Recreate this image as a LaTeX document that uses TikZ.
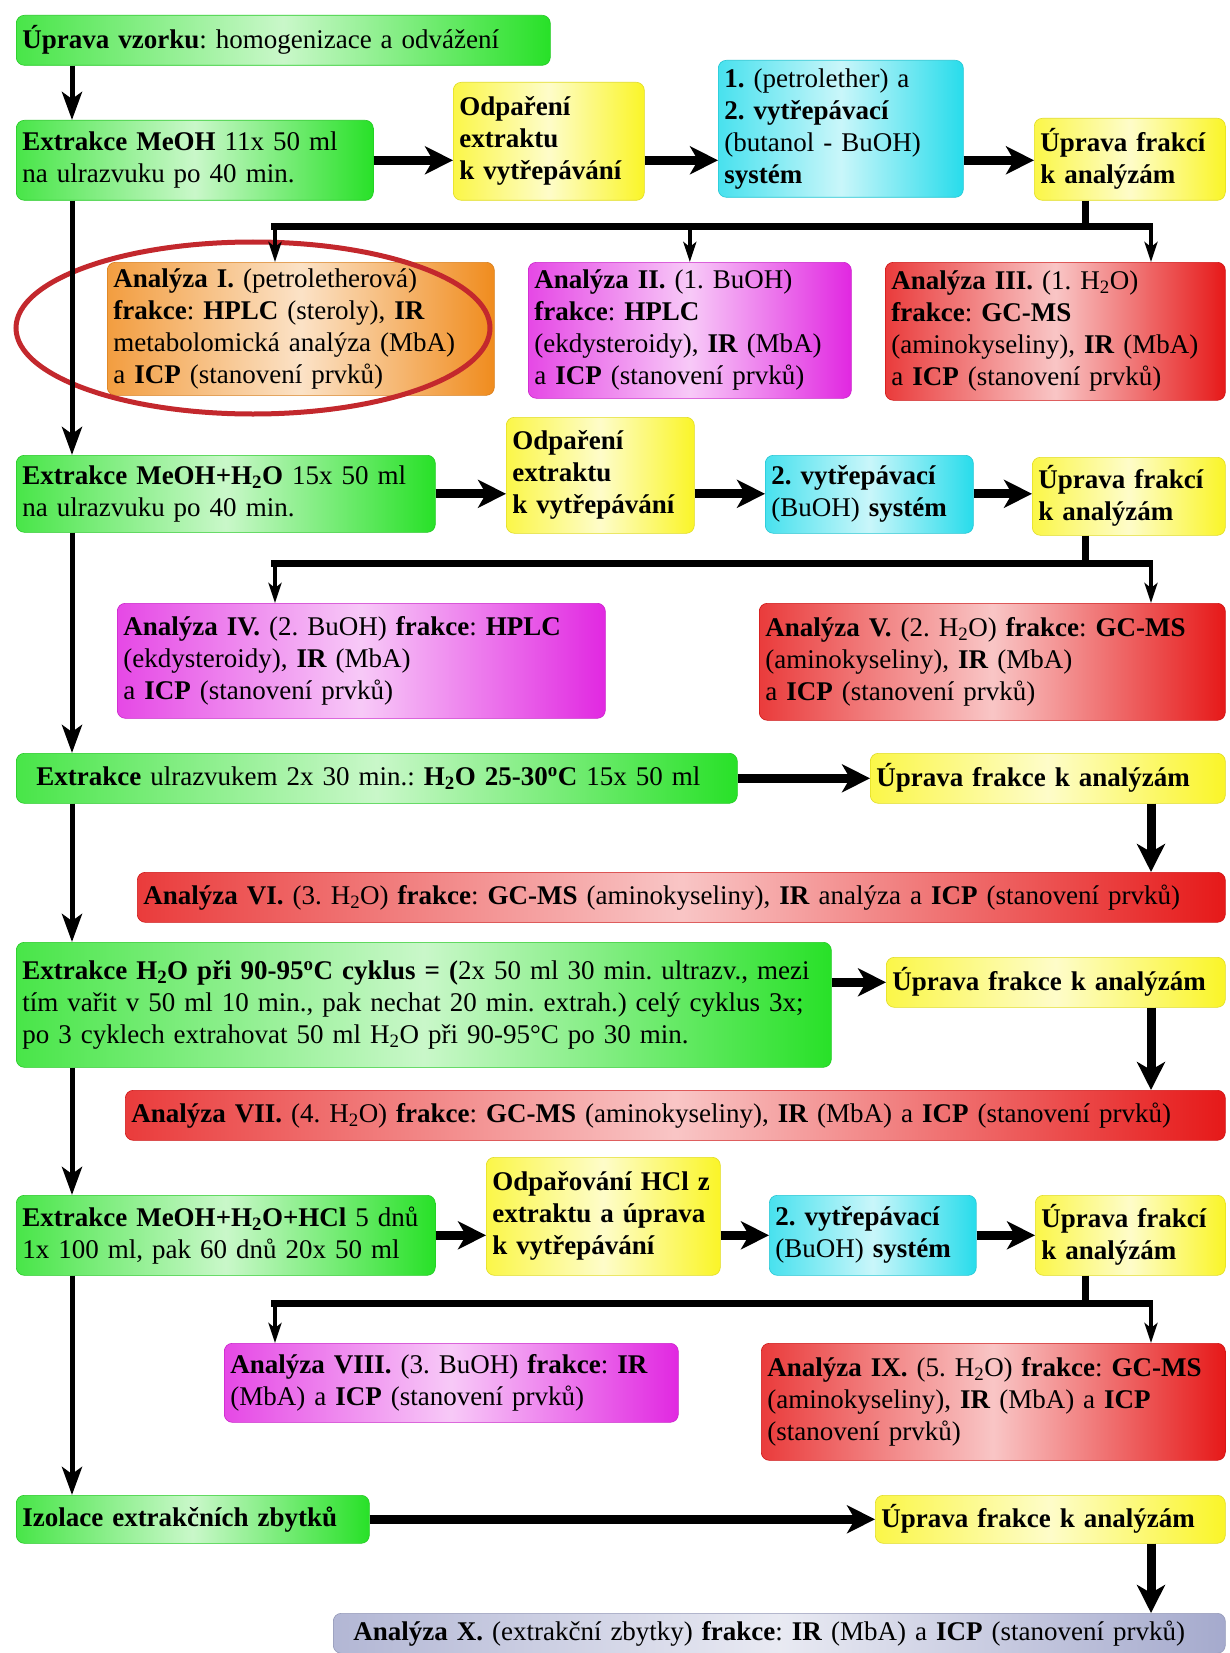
\documentclass[tikz,border=0pt]{standalone}
\usepackage{fontspec}
\setmainfont{Liberation Serif}
\usepackage{tikz}
\usetikzlibrary{arrows.meta, positioning, shapes.geometric, calc}

\definecolor{pgreen}{RGB}{40,225,40}
\definecolor{pyellow}{RGB}{250,245,40}
\definecolor{pcyan}{RGB}{40,220,235}
\definecolor{porange}{RGB}{240,140,30}
\definecolor{pmagenta}{RGB}{225,40,225}
\definecolor{pred}{RGB}{230,25,25}
\definecolor{pgrey}{RGB}{165,170,205}
\definecolor{ringred}{RGB}{195,40,45}

\begin{document}
\frenchspacing
\begin{tikzpicture}[x=1pt, y=-1pt,
  pbox/.style={rounded corners=8pt, anchor=north west, align=left, inner sep=6pt,
    font=\fontsize{27}{32}\selectfont},
  tint/.style={pbox, shade, left color=#1!85!white, right color=#1, middle color=#1!25!white, draw=#1!90!black, line width=0.6pt},
  gbox/.style={tint=pgreen},
  ybox/.style={tint=pyellow},
  cbox/.style={tint=pcyan},
  obox/.style={tint=porange},
  mbox/.style={tint=pmagenta},
  rbox/.style={tint=pred},
  greybox/.style={tint=pgrey},
  flow/.style={line width=9pt, -{Stealth[length=28pt, width=28pt, inset=8pt]}},
  trunk/.style={line width=5pt, -{Stealth[length=28pt, width=20pt, inset=7pt]}},
  bus/.style={line width=7pt},
  drop/.style={line width=4pt, -{Stealth[length=20pt, width=13pt, inset=5pt]}},
]
\fill[white] (0,0) rectangle (1230,1653);
\useasboundingbox (0,0) rectangle (1230,1653);

\coordinate (trunk) at (72,0);
\coordinate (fork) at (1085,0);

% Sample preparation
\node[gbox, text width=522pt, minimum height=50pt] (prep) at (16,15)
  {\textbf{Úprava vzorku}: homogenizace a odvážení};

% First extraction
\node[gbox, text width=345pt, minimum height=80pt] (ext1) at (16,120)
  {\textbf{Extrakce MeOH} 11x 50 ml\\na ulrazvuku po 40 min.};
\node[ybox, text width=179pt, minimum height=118pt] (odp1) at (453,82)
  {\textbf{Odpaření}\\\textbf{extraktu}\\\textbf{k vytřepávání}};
\node[cbox, text width=233pt, minimum height=137pt] (sys1) at (718,60)
  {\textbf{1.} (petrolether) a\\\textbf{2. vytřepávací}\\(butanol - BuOH)\\\textbf{systém}};
\node[ybox, text width=179pt, minimum height=82pt] (upr1) at (1034,118)
  {\textbf{Úprava frakcí}\\\textbf{k analýzám}};
\node[obox, text width=375pt, minimum height=133pt] (anI) at (107,262)
  {\textbf{Analýza I.} (petroletherová)\\\textbf{frakce}: \textbf{HPLC} (steroly), \textbf{IR}\\metabolomická analýza (MbA)\\a \textbf{ICP} (stanovení prvků)};
\node[mbox, text width=311pt, minimum height=136pt] (anII) at (528,262)
  {\textbf{Analýza II.} (1. BuOH)\\\textbf{frakce}: \textbf{HPLC}\\(ekdysteroidy), \textbf{IR} (MbA)\\a \textbf{ICP} (stanovení prvků)};
\node[rbox, text width=328pt, minimum height=138pt] (anIII) at (885,262)
  {\textbf{Analýza III.} (1. H\textsubscript{2}O)\\\textbf{frakce}: \textbf{GC-MS}\\(aminokyseliny), \textbf{IR} (MbA)\\a \textbf{ICP} (stanovení prvků)};
\node[draw=ringred, line width=5pt, ellipse, minimum width=474pt, minimum height=172pt] (ring) at (253,328) {};

% Second extraction
\node[gbox, text width=407pt, minimum height=77pt] (ext2) at (16,455)
  {\textbf{Extrakce MeOH+H\textsubscript{2}O} 15x 50 ml\\na ulrazvuku po 40 min.};
\node[ybox, text width=176pt, minimum height=116pt] (odp2) at (506,417)
  {\textbf{Odpaření}\\\textbf{extraktu}\\\textbf{k vytřepávání}};
\node[cbox, text width=196pt, minimum height=78pt] (sys2) at (765,455)
  {\textbf{2. vytřepávací}\\(BuOH) \textbf{systém}};
\node[ybox, text width=181pt, minimum height=78pt] (upr2) at (1032,457)
  {\textbf{Úprava frakcí}\\\textbf{k analýzám}};
\node[mbox, text width=476pt, minimum height=115pt] (anIV) at (117,603)
  {\textbf{Analýza IV.} (2. BuOH) \textbf{frakce}: \textbf{HPLC}\\(ekdysteroidy), \textbf{IR} (MbA)\\a \textbf{ICP} (stanovení prvků)};
\node[rbox, text width=454pt, minimum height=117pt] (anV) at (759,603)
  {\textbf{Analýza V.} (2. H\textsubscript{2}O) \textbf{frakce}: \textbf{GC-MS}\\(aminokyseliny), \textbf{IR} (MbA)\\a \textbf{ICP} (stanovení prvků)};

% Third extraction
\node[gbox, text width=709pt, minimum height=50pt] (ext3) at (16,753)
  {\hspace{14pt}\textbf{Extrakce} ulrazvukem 2x 30 min.: \textbf{H\textsubscript{2}O 25-30\textsuperscript{o}C} 15x 50 ml};
\node[ybox, text width=343pt, minimum height=50pt] (upr3) at (870,753)
  {\textbf{Úprava frakce k analýzám}};
\node[rbox, text width=1076pt, minimum height=50pt] (anVI) at (137,872)
  {\textbf{Analýza VI.} (3. H\textsubscript{2}O) \textbf{frakce}: \textbf{GC-MS} (aminokyseliny), \textbf{IR} analýza a \textbf{ICP} (stanovení prvků)};

% Fourth extraction
\node[gbox, text width=803pt, minimum height=125pt] (ext4) at (16,942)
  {\textbf{Extrakce H\textsubscript{2}O při 90-95\textsuperscript{o}C cyklus = (}2x 50 ml 30 min. ultrazv., mezi\\tím vařit v 50 ml 10 min., pak nechat 20 min. extrah.) celý cyklus 3x;\\po 3 cyklech extrahovat 50 ml H\textsubscript{2}O při 90-95°C po 30 min.};
\node[ybox, text width=327pt, minimum height=50pt] (upr4) at (886,957)
  {\textbf{Úprava frakce k analýzám}};
\node[rbox, text width=1088pt, minimum height=50pt] (anVII) at (125,1090)
  {\textbf{Analýza VII.} (4. H\textsubscript{2}O) \textbf{frakce}: \textbf{GC-MS} (aminokyseliny), \textbf{IR} (MbA) a \textbf{ICP} (stanovení prvků)};

% Fifth extraction
\node[gbox, text width=407pt, minimum height=80pt] (ext5) at (16,1195)
  {\textbf{Extrakce MeOH+H\textsubscript{2}O+HCl} 5 dnů\\1x 100 ml, pak 60 dnů 20x 50 ml};
\node[ybox, text width=222pt, minimum height=118pt] (odp5) at (486,1157)
  {\textbf{Odpařování HCl z}\\\textbf{extraktu a úprava}\\\textbf{k vytřepávání}};
\node[cbox, text width=195pt, minimum height=80pt] (sys5) at (769,1195)
  {\textbf{2. vytřepávací}\\(BuOH) \textbf{systém}};
\node[ybox, text width=178pt, minimum height=80pt] (upr5) at (1035,1195)
  {\textbf{Úprava frakcí}\\\textbf{k analýzám}};
\node[mbox, text width=442pt, minimum height=79pt] (anVIII) at (224,1343)
  {\textbf{Analýza VIII.} (3. BuOH) \textbf{frakce}: \textbf{IR}\\(MbA) a \textbf{ICP} (stanovení prvků)};
\node[rbox, text width=452pt, minimum height=117pt] (anIX) at (761,1343)
  {\textbf{Analýza IX.} (5. H\textsubscript{2}O) \textbf{frakce}: \textbf{GC-MS}\\(aminokyseliny), \textbf{IR} (MbA) a \textbf{ICP}\\(stanovení prvků)};

% Residues
\node[gbox, text width=341pt, minimum height=48pt] (iso) at (16,1495)
  {\textbf{Izolace extrakčních zbytků}};
\node[ybox, text width=338pt, minimum height=48pt] (upr6) at (875,1495)
  {\textbf{Úprava frakce k analýzám}};
\node[greybox, text width=880pt, minimum height=40pt] (anX) at (333,1613)
  {\hspace{14pt}\textbf{Analýza X.} (extrakční zbytky) \textbf{frakce}: \textbf{IR} (MbA) a \textbf{ICP} (stanovení prvků)};

% Main line
\draw[trunk] (prep.south -| trunk) -- (ext1.north -| trunk);
\draw[trunk] (ext1.south -| trunk) -- (ext2.north -| trunk);
\draw[trunk] (ext2.south -| trunk) -- (ext3.north -| trunk);
\draw[trunk] (ext3.south -| trunk) -- (ext4.north -| trunk);
\draw[trunk] (ext4.south -| trunk) -- (ext5.north -| trunk);
\draw[trunk] (ext5.south -| trunk) -- (iso.north -| trunk);

% Rows
\draw[flow] (ext1.east) -- (odp1.west |- ext1.east);
\draw[flow] (odp1.east |- ext1.east) -- (sys1.west |- ext1.east);
\draw[flow] (sys1.east |- ext1.east) -- (upr1.west |- ext1.east);
\draw[flow] (ext2.east) -- (odp2.west |- ext2.east);
\draw[flow] (odp2.east |- ext2.east) -- (sys2.west |- ext2.east);
\draw[flow] (sys2.east |- ext2.east) -- (upr2.west |- ext2.east);
\draw[flow] (ext3.east) -- (upr3.west);
\draw[flow] (ext4.east |- upr4.west) -- (upr4.west);
\draw[flow] (ext5.east) -- (odp5.west |- ext5.east);
\draw[flow] (odp5.east |- ext5.east) -- (sys5.west |- ext5.east);
\draw[flow] (sys5.east |- ext5.east) -- (upr5.west |- ext5.east);
\draw[flow] (iso.east) -- (upr6.west);

% Fractions
\coordinate (b1) at (271,227);
\coordinate (b2) at (271,563);
\coordinate (b3) at (271,1303);
\draw[bus] (upr1.south -| fork) -- (b1 -| fork);
\draw[bus] (b1) -- ++(882,0);
\draw[drop] ([xshift=4pt]b1) -- ([xshift=4pt]anI.north -| b1);
\draw[drop] (b1 -| anII.north) -- (anII.north);
\draw[drop] (b1 -| 1151,0) -- (anIII.north -| 1151,0);

\draw[bus] (upr2.south -| fork) -- (b2 -| fork);
\draw[bus] (b2) -- ++(882,0);
\draw[drop] ([xshift=4pt]b2) -- ([xshift=4pt]anIV.north -| b2);
\draw[drop] (b2 -| 1151,0) -- (anV.north -| 1151,0);

\draw[flow] (upr3.south -| 1151,0) -- (anVI.north -| 1151,0);
\draw[flow] (upr4.south -| 1151,0) -- (anVII.north -| 1151,0);

\draw[bus] (upr5.south -| fork) -- (b3 -| fork);
\draw[bus] (b3) -- ++(882,0);
\draw[drop] ([xshift=4pt]b3) -- ([xshift=4pt]anVIII.north -| b3);
\draw[drop] (b3 -| 1151,0) -- (anIX.north -| 1151,0);

\draw[flow] (upr6.south -| 1151,0) -- (anX.north -| 1151,0);
\end{tikzpicture}
\end{document}
